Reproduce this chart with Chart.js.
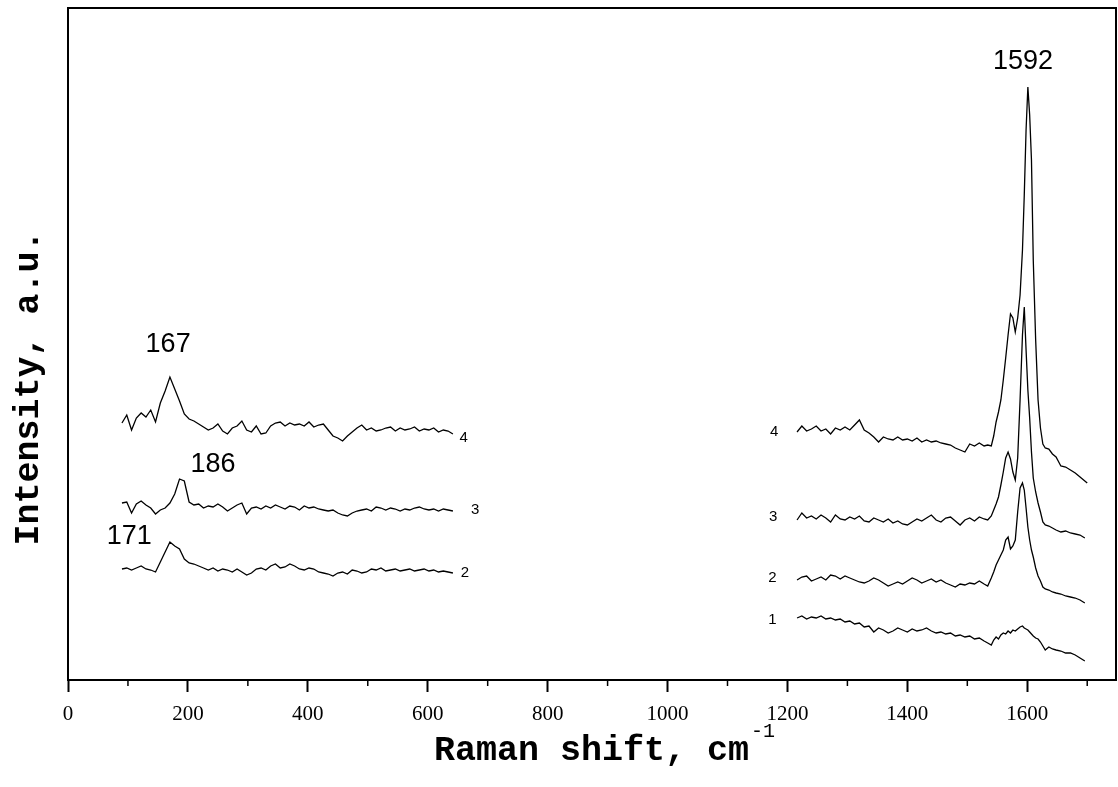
<!DOCTYPE html>
<html>
<head>
<meta charset="utf-8">
<script src="https://cdn.jsdelivr.net/npm/chart.js@4.4.0/dist/chart.umd.min.js"></script>
<style>
  body { margin: 0; background: #fff; }
  #wrap { width: 1118px; height: 787px; }
</style>
</head>
<body>
<div id="wrap"><canvas id="raman" width="1118" height="787"></canvas></div>
<script>
// Raman shift (cm-1) of the low-frequency traces
const lowX = [
    90, 98, 106, 114, 122, 130, 138, 146, 154, 162,
    170, 178, 186, 194, 202, 210, 218, 226, 234, 242,
    250, 258, 266, 274, 282, 290, 298, 306, 314, 322,
    330, 338, 346, 354, 362, 370, 378, 386, 394, 402,
    410, 418, 426, 434, 442, 450, 458, 466, 474, 482,
    490, 498, 506, 514, 522, 530, 538, 546, 554, 562,
    570, 578, 586, 594, 602, 610, 618, 626, 634, 642
];
const lowS4 = [
    257, 265, 250, 262, 267, 263, 270, 258, 277, 289,
    303, 291, 279, 266, 261, 259, 256, 253, 250, 252,
    256, 249, 246, 252, 254, 259, 250, 248, 254, 246,
    247, 254, 257, 258, 254, 257, 255, 256, 254, 258,
    253, 255, 256, 250, 244, 242, 239, 244, 248, 252,
    255, 250, 252, 249, 250, 252, 253, 249, 252, 250,
    251, 253, 249, 251, 250, 252, 248, 250, 249, 246
];
const lowS3 = [
    177, 178, 167, 176, 179, 175, 172, 166, 170, 172,
    177, 186, 201, 199, 178, 175, 176, 172, 174, 173,
    176, 173, 169, 172, 175, 177, 166, 172, 173, 171,
    174, 172, 175, 173, 171, 174, 173, 170, 174, 172,
    173, 171, 170, 169, 170, 167, 165, 164, 167, 169,
    170, 171, 169, 173, 172, 170, 172, 171, 169, 171,
    170, 172, 173, 171, 170, 171, 169, 171, 170, 169
];
const lowS2 = [
    111, 112, 110, 112, 114, 111, 110, 108, 118, 128,
    138, 134, 131, 121, 117, 116, 114, 112, 110, 112,
    109, 111, 110, 108, 111, 108, 105, 107, 111, 112,
    110, 114, 116, 112, 113, 116, 114, 111, 110, 112,
    111, 108, 107, 106, 104, 107, 108, 106, 110, 109,
    107, 108, 111, 110, 112, 109, 110, 111, 109, 110,
    111, 109, 110, 111, 109, 110, 108, 109, 108, 107
];

// Raman shift (cm-1) of the high-frequency traces
const highX = [
    1216, 1224, 1232, 1240, 1248, 1256, 1264, 1272, 1280, 1288,
    1296, 1304, 1312, 1320, 1328, 1336, 1344, 1352, 1360, 1368,
    1376, 1384, 1392, 1400, 1408, 1416, 1424, 1432, 1440, 1448,
    1456, 1464, 1472, 1480, 1488, 1496, 1504, 1512, 1520, 1528,
    1534, 1540, 1544, 1548, 1552, 1556, 1560, 1564, 1568, 1572,
    1576, 1580, 1584, 1588, 1592, 1595, 1598, 1601, 1604, 1607,
    1610, 1614, 1618, 1622, 1626, 1630, 1636, 1642, 1648, 1656,
    1664, 1672, 1680, 1688, 1696, 1700
];
const highS4 = [
    248, 254, 249, 251, 254, 249, 251, 246, 252, 250,
    253, 250, 255, 260, 250, 247, 243, 238, 243, 241,
    240, 243, 240, 241, 239, 242, 238, 240, 238, 239,
    237, 236, 235, 232, 230, 228, 236, 234, 237, 234,
    235, 234, 244, 258, 268, 280, 300, 322, 345, 366,
    362, 348, 362, 385, 430, 485, 550, 593, 565, 520,
    420, 340, 280, 252, 236, 232, 231, 226, 223, 214,
    213, 210, 207, 203, 199, 197
];
const highS3 = [
    160, 167, 162, 164, 161, 165, 162, 158, 165, 161,
    160, 163, 161, 164, 159, 158, 162, 160, 158, 161,
    157, 159, 156, 155, 158, 161, 159, 162, 165, 160,
    158, 162, 163, 159, 155, 160, 162, 159, 163, 161,
    160, 164, 170, 176, 183, 195, 208, 222, 228, 221,
    208, 200, 222, 280, 345, 373, 330, 290, 262, 228,
    202, 188, 177, 168, 158, 155, 154, 152, 150, 148,
    149, 147, 146, 145, 142, null
];
const highS2 = [
    100, 103, 104, 99, 101, 103, 100, 105, 104, 101,
    104, 102, 100, 98, 97, 99, 102, 100, 97, 94,
    96, 98, 96, 99, 102, 100, 97, 99, 101, 98,
    100, 97, 95, 93, 96, 95, 97, 96, 99, 96,
    94, 102, 108, 115, 120, 125, 130, 140, 143, 131,
    134, 140, 168, 192, 197, 190, 172, 153, 140, 130,
    123, 112, 104, 99, 93, 91, 90, 88, 87, 86,
    84, 83, 82, 80, 77, null
];
const highS1 = [
    62, 64, 61, 63, 62, 64, 61, 62, 60, 61,
    58, 59, 56, 57, 53, 54, 48, 52, 50, 47,
    49, 52, 50, 48, 51, 49, 50, 52, 49, 47,
    48, 46, 47, 44, 45, 43, 44, 41, 42, 39,
    37, 35, 40, 43, 41, 45, 47, 46, 49, 47,
    50, 49, 51, 53, 54, 52, 51, 50, 48, 46,
    44, 42, 41, 38, 34, 30, 33, 31, 30, 29,
    27, 27, 25, 22, 19, null
];

const minorTicks = [100, 300, 500, 700, 900, 1100, 1300, 1500, 1700];

// text marks in data units (x: cm-1, y: a.u.)
const peakLabels = [
    { text: '167', x: 167, y: 335 },
    { text: '186', x: 242, y: 215 },
    { text: '171', x: 102, y: 143 },
    { text: '1592', x: 1593, y: 618 }
];
const traceLabels = [
    { text: '4', x: 660, y: 242 },
    { text: '3', x: 679, y: 170 },
    { text: '2', x: 662, y: 107 },
    { text: '4', x: 1178, y: 248 },
    { text: '3', x: 1176, y: 163 },
    { text: '2', x: 1175, y: 102 },
    { text: '1', x: 1175, y: 60 }
];

function toPoints(xs, ys) {
    return xs.map((x, i) => ({ x: x, y: ys[i] }));
}

function trace(xs, ys) {
    return {
        data: toPoints(xs, ys),
        borderColor: '#000',
        borderWidth: 1.3,
        pointRadius: 0,
        tension: 0,
        spanGaps: false
    };
}

const framePlugin = {
    id: 'framePlugin',
    afterDraw(chart) {
        const ctx = chart.ctx;
        const a = chart.chartArea;
        const xs = chart.scales.x;
        const ys = chart.scales.y;
        ctx.save();
        ctx.strokeStyle = '#000';
        ctx.lineWidth = 2;
        ctx.strokeRect(a.left, a.top, a.right - a.left, a.bottom - a.top);

        ctx.lineWidth = 1.5;
        minorTicks.forEach(v => {
            const px = xs.getPixelForValue(v);
            ctx.beginPath();
            ctx.moveTo(px, a.bottom);
            ctx.lineTo(px, a.bottom + 6);
            ctx.stroke();
        });

        ctx.fillStyle = '#000';
        ctx.textAlign = 'center';
        ctx.textBaseline = 'middle';
        ctx.font = '27px "Liberation Sans", Arial, sans-serif';
        peakLabels.forEach(l => {
            ctx.fillText(l.text, xs.getPixelForValue(l.x), ys.getPixelForValue(l.y));
        });
        ctx.font = '15px "Liberation Sans", Arial, sans-serif';
        traceLabels.forEach(l => {
            ctx.fillText(l.text, xs.getPixelForValue(l.x), ys.getPixelForValue(l.y));
        });

        // axis titles
        ctx.textBaseline = 'alphabetic';
        ctx.textAlign = 'left';
        ctx.font = 'bold 35px "Liberation Mono", "Courier New", monospace';
        const xt = 'Raman shift, cm';
        ctx.fillText(xt, 434, 760);
        const w = ctx.measureText(xt).width;
        ctx.font = '20px "Liberation Mono", "Courier New", monospace';
        ctx.fillText('-1', 434 + w + 2, 737);

        ctx.translate(38, 388);
        ctx.rotate(-Math.PI / 2);
        ctx.textAlign = 'center';
        ctx.font = 'bold 35px "Liberation Mono", "Courier New", monospace';
        ctx.fillText('Intensity, a.u.', 0, 0);
        ctx.restore();
    }
};

new Chart(document.getElementById('raman'), {
    type: 'line',
    data: {
        datasets: [
            trace(lowX, lowS4),
            trace(lowX, lowS3),
            trace(lowX, lowS2),
            trace(highX, highS4),
            trace(highX, highS3),
            trace(highX, highS2),
            trace(highX, highS1)
        ]
    },
    options: {
        responsive: false,
        animation: false,
        layout: { padding: { left: 68, top: 8, right: 2, bottom: 0 } },
        plugins: {
            legend: { display: false },
            tooltip: { enabled: false }
        },
        scales: {
            x: {
                type: 'linear',
                min: 0,
                max: 1748,
                grid: {
                    drawOnChartArea: false,
                    tickLength: 12,
                    tickColor: '#000',
                    tickWidth: 2
                },
                border: { display: true, color: '#000', width: 2 },
                ticks: {
                    stepSize: 200,
                    includeBounds: false,
                    autoSkip: false,
                    maxRotation: 0,
                    padding: 10,
                    color: '#000',
                    font: { family: '"Liberation Serif", "Times New Roman", serif', size: 21 },
                    callback: function(value) {
                        return String(value);
                    }
                },
                afterFit(scale) {
                    scale.height = 107;
                }
            },
            y: {
                type: 'linear',
                min: 0,
                max: 672,
                display: false
            }
        }
    },
    plugins: [framePlugin]
});
</script>
</body>
</html>
